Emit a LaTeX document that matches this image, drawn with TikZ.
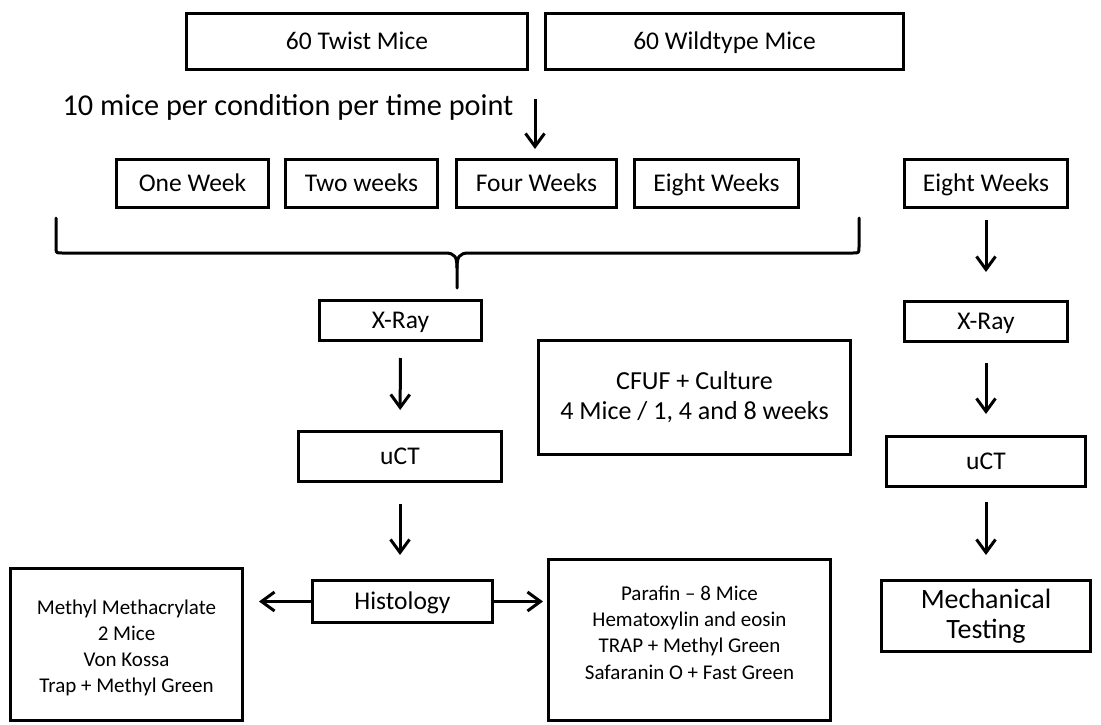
\documentclass[tikz,border=0pt]{standalone}
\usepackage{fontspec}
\setmainfont{Carlito}
\usetikzlibrary{arrows.meta}

\begin{document}
\begin{tikzpicture}[x=1pt,y=-1pt,
  frame/.style={draw, line width=3.4pt, rectangle, inner sep=0pt, align=center},
  box/.style={frame, font=\fontsize{25.5}{30}\selectfont, text height=18pt, text depth=2pt},
  flow/.style={line width=3pt, -{Straight Barb[length=13pt,width=19pt]}},
  brace/.style={line width=3pt, line cap=round, line join=round}]
\useasboundingbox (0,0) rectangle (1101,725);

% study groups
\node[box, minimum width=340.6pt, minimum height=55.6pt] (twist) at (357,41.5) {60 Twist Mice};
\node[box, minimum width=357.6pt, minimum height=55.6pt] (wild) at (724.5,41.5) {60 Wildtype Mice};
\node[font=\fontsize{30.3}{36}\selectfont, inner sep=0pt, text height=21pt, text depth=0pt] (note) at (288,105) {10 mice per condition per time point};

% time points
\node[box, minimum width=151.6pt, minimum height=47.6pt] (wk1) at (192.5,183.5) {One Week};
\node[box, minimum width=151.6pt, minimum height=47.6pt] (wk2) at (361.5,183.5) {Two weeks};
\node[box, minimum width=159.6pt, minimum height=47.6pt] (wk4) at (536.5,183.5) {Four Weeks};
\node[box, minimum width=163.6pt, minimum height=47.6pt] (wk8) at (716.5,183.5) {Eight Weeks};
\node[box, minimum width=162.6pt, minimum height=47.6pt] (wk8r) at (986,183.5) {Eight Weeks};

% left branch
\node[box, minimum width=161.6pt, minimum height=39.6pt] (xray) at (400.5,320.5) {X-Ray};
\node[box, minimum width=202.6pt, minimum height=49.6pt] (uct) at (400,456.5) {uCT};
\node[box, minimum width=179.6pt, minimum height=41.6pt] (hist) at (402.5,601.5) {Histology};
\node[frame, minimum width=231.6pt, minimum height=151.6pt] (mma) at (126.5,644.5) {};
\node[align=center, inner sep=0pt, font=\fontsize{21}{26}\selectfont] (mmatext) at (126.5,648)
  {Methyl Methacrylate\\2 Mice\\Von Kossa\\Trap + Methyl Green};
\node[frame, minimum width=281.6pt, minimum height=160.6pt] (para) at (689.5,640) {};
\node[align=center, inner sep=0pt, font=\fontsize{21}{26.3}\selectfont] (paratext) at (689.5,632.5)
  {Parafin -- 8 Mice\\Hematoxylin and eosin\\TRAP + Methyl Green\\Safaranin O + Fast Green};

% culture
\node[frame, minimum width=311.6pt, minimum height=113.6pt, font=\fontsize{26}{30}\selectfont] (cfuf) at (694.5,397.5)
  {CFUF + Culture\\4 Mice / 1, 4 and 8 weeks};

% right branch
\node[box, minimum width=162.6pt, minimum height=39.6pt] (xrayr) at (986,321.5) {X-Ray};
\node[box, minimum width=198.6pt, minimum height=49.6pt] (uctr) at (986,461.5) {uCT};
\node[frame, minimum width=208.6pt, minimum height=70.6pt, font=\fontsize{28}{30}\selectfont] (mech) at (986,616)
  {Mechanical\\Testing};

% brace gathering the time points
\coordinate (braceL) at (56,218);
\coordinate (braceR) at (859,218);
\coordinate (braceTip) at (457,288);
\draw[brace] (braceL) -- (56,247) .. controls (56,253) .. (62,253) -- (445,253)
  .. controls (455,253) and (457,257) .. (457,268) -- (braceTip);
\draw[brace] (braceR) -- (859,247) .. controls (859,253) .. (853,253) -- (469,253)
  .. controls (459,253) and (457,257) .. (457,268);

% connectors
\coordinate (noteArrow) at (535,99);
\draw[flow, shorten >=9pt] (noteArrow) -- (noteArrow |- wk4.north);
\draw[flow, shorten <=16pt, shorten >=20pt] (xray) -- (uct);
\draw[flow, shorten <=21pt, shorten >=24pt] (uct.south) -- (uct.south |- hist.north);
\draw[flow] (hist.west) -- ([xshift=15pt]mma.east |- hist.west);
\draw[flow, shorten >=4pt] (hist.east) -- (para.west |- hist.east);
\draw[flow, shorten <=11pt, shorten >=28pt] (wk8r) -- (xrayr);
\draw[flow, shorten <=20pt, shorten >=21pt] (xrayr) -- (uctr);
\draw[flow, shorten <=14pt, shorten >=24pt] (uctr.south) -- (uctr.south |- mech.north);
\end{tikzpicture}
\end{document}
